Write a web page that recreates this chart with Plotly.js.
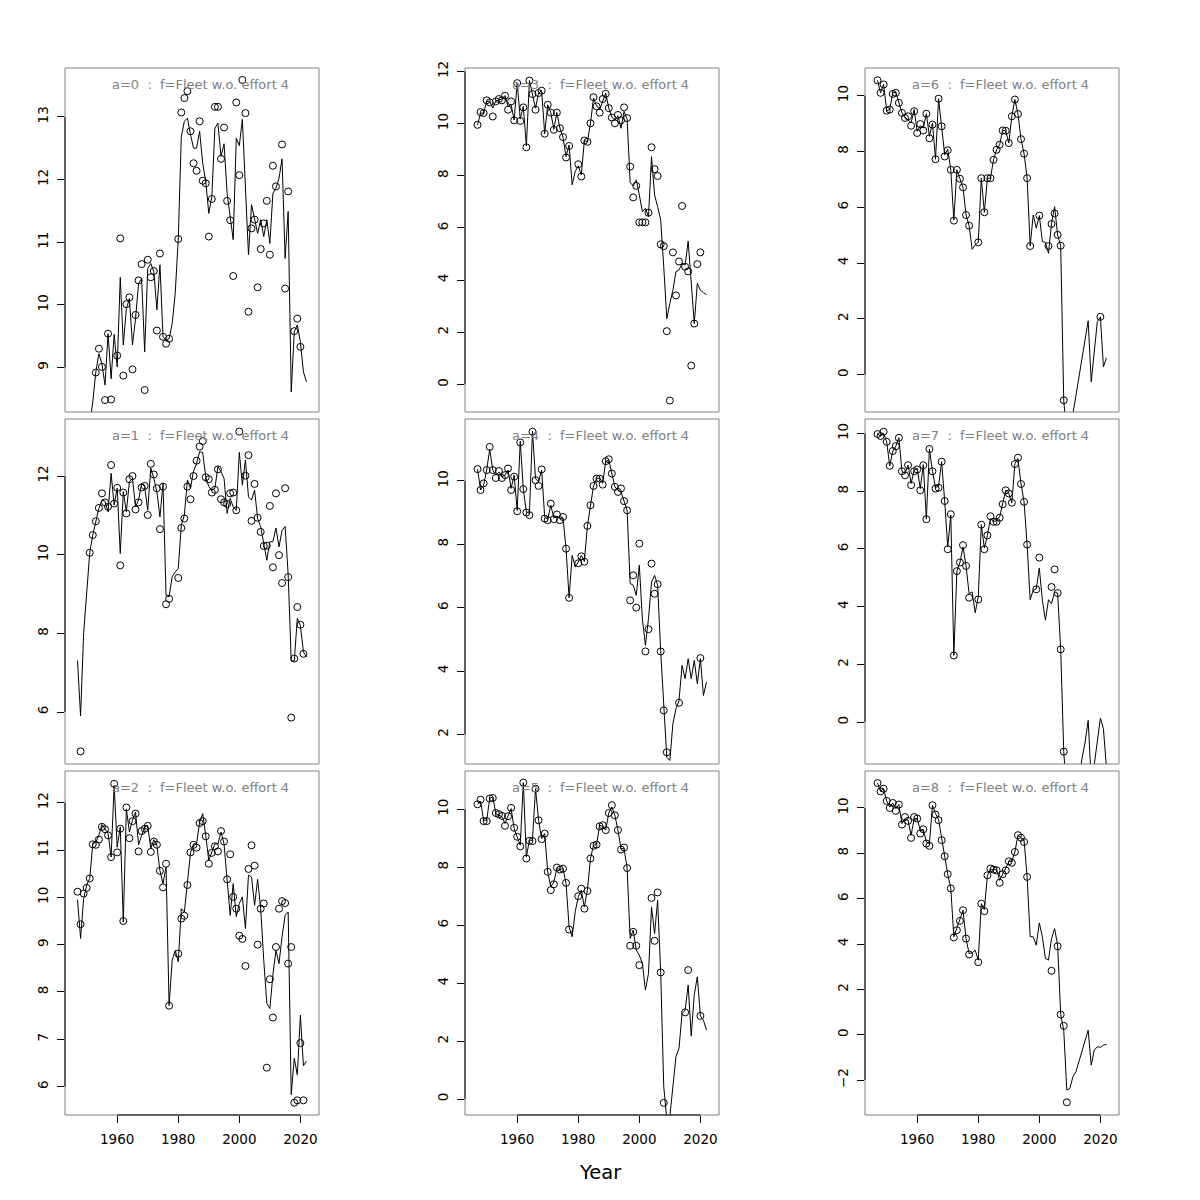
<!DOCTYPE html>
<html><head><meta charset="utf-8">
<script src="https://cdn.plot.ly/plotly-3.0.1.min.js"></script>
<style>html,body{margin:0;padding:0;background:#fff}</style>
</head><body><div id="chart" style="width:1200px;height:1200px"></div>
<script>
const years = [1947,1948,1949,
 1950,1951,1952,1953,1954,1955,1956,1957,1958,1959,
 1960,1961,1962,1963,1964,1965,1966,1967,1968,1969,
 1970,1971,1972,1973,1974,1975,1976,1977,1978,1979,
 1980,1981,1982,1983,1984,1985,1986,1987,1988,1989,
 1990,1991,1992,1993,1994,1995,1996,1997,1998,1999,
 2000,2001,2002,2003,2004,2005,2006,2007,2008,2009,
 2010,2011,2012,2013,2014,2015,2016,2017,2018,2019,
 2020,2021,2022];

const fit_a0 = [7.2,7.5,7.7,
 7.9,8.1,8.45,8.93,9.22,9.06,8.72,9.54,8.82,9.53,
 9.01,10.44,9.36,9.94,10.10,9.36,9.78,10.34,10.42,9.25,
 10.58,10.66,10.53,9.92,10.64,9.49,9.44,9.46,9.70,10.18,
 11.05,12.68,12.93,12.98,12.72,12.50,12.50,12.77,12.26,11.97,
 11.46,11.73,12.82,12.90,12.37,12.57,11.78,11.41,11.04,12.66,
 12.54,12.96,11.89,10.80,11.60,11.38,11.14,11.36,11.09,11.36,
 10.98,11.78,11.86,12.02,12.33,10.74,11.49,8.61,9.57,9.68,
 9.41,8.93,8.77];
const obs_a0 = [null,null,null,
 null,null,null,8.92,9.30,9.01,8.48,9.54,8.49,null,
 9.19,11.06,8.87,10.01,10.12,8.97,9.84,10.39,10.65,8.64,
 10.72,10.44,10.54,9.59,10.82,9.49,9.38,9.46,null,null,
 11.05,13.07,13.30,13.41,12.77,12.26,12.14,12.93,11.98,11.94,
 11.09,11.69,13.16,13.16,12.33,12.83,11.66,11.35,10.46,13.23,
 12.07,13.59,13.06,9.89,11.22,11.36,10.28,10.89,11.30,11.66,
 10.80,12.22,11.89,null,12.56,10.26,11.81,null,9.58,9.78,
 9.33,null,null];

const fit_a1 = [7.31,5.90,7.99,
 9.01,10.05,10.50,10.84,11.18,11.39,11.36,11.09,12.07,11.26,
 11.69,10.03,11.60,11.09,11.86,11.94,11.22,11.39,11.81,11.73,
 11.13,12.20,11.94,11.60,10.96,11.81,8.97,8.93,9.44,9.56,
 9.65,10.75,11.01,11.90,11.69,12.13,12.32,12.62,12.60,11.98,
 11.73,11.64,11.69,12.24,12.11,11.94,11.05,11.43,11.22,11.13,
 12.60,11.77,12.41,11.47,11.39,11.64,10.92,10.71,10.24,9.86,
 10.33,10.33,10.68,10.20,10.62,10.72,9.5,7.3,7.3,8.38,
 8.2,7.53,7.40];
const obs_a1 = [null,5.00,null,
 null,10.05,10.50,10.85,11.19,11.56,11.33,11.22,12.28,11.30,
 11.70,9.73,11.58,11.05,11.92,12.00,11.15,11.33,11.71,11.75,
 11.01,12.31,12.04,11.69,10.65,11.73,8.74,8.88,null,null,
 9.41,10.68,10.92,11.73,11.41,12.00,12.39,12.75,12.89,11.97,
 11.92,11.58,11.65,12.17,11.41,11.33,11.29,11.56,11.58,11.13,
 13.13,null,12.01,12.53,10.86,11.80,10.94,10.58,10.22,10.23,
 11.24,9.68,11.56,9.99,9.28,11.69,9.43,5.86,7.36,8.67,
 8.22,7.48,null];

const fit_a2 = [9.95,9.13,9.97,
 10.26,10.40,11.13,11.17,11.31,11.54,11.45,11.35,10.85,12.37,
 11.06,11.49,9.48,11.87,11.38,11.63,11.80,11.11,11.31,11.49,
 11.52,11.03,11.22,11.10,10.56,10.29,10.64,7.71,8.67,8.88,
 8.64,9.76,9.69,10.29,10.94,11.13,11.13,11.59,11.77,11.31,
 10.78,10.96,11.13,11.13,11.38,11.13,10.38,9.62,10.29,9.59,
 9.87,10.01,9.34,10.47,10.43,9.83,10.38,9.76,8.67,7.76,
 7.65,8.36,8.88,8.60,9.17,9.62,9.69,5.83,6.60,6.25,
 7.51,6.44,6.54];
const obs_a2 = [10.12,9.43,10.08,
 10.20,10.40,11.12,11.11,11.22,11.49,11.44,11.31,10.85,12.40,
 10.95,11.45,9.50,11.90,11.25,11.61,11.77,10.97,11.40,11.45,
 11.51,10.96,11.18,11.11,10.56,10.21,10.71,7.71,null,null,
 8.81,9.55,9.61,10.26,10.95,11.11,11.05,11.57,11.61,11.29,
 10.71,10.94,11.08,10.97,11.40,11.18,10.38,10.91,10.01,9.76,
 9.19,9.12,8.55,10.60,11.10,10.67,9.00,9.76,9.87,6.40,
 8.27,7.46,8.95,9.76,9.92,9.88,8.60,8.95,5.66,5.71,
 6.92,5.71,null];

const fit_a3 = [9.95,10.40,10.40,
 10.85,10.85,10.59,10.87,10.91,10.94,11.07,10.66,10.72,10.14,
 11.55,10.17,10.66,9.14,11.65,11.10,10.59,11.17,11.26,9.61,
 10.72,10.42,9.78,10.42,9.82,9.48,8.73,9.18,7.65,8.16,
 8.38,8.03,9.35,9.30,10.01,10.98,10.68,10.53,10.89,11.17,
 10.59,10.25,10.12,10.30,9.82,10.46,10.17,7.74,7.61,7.84,
 7.26,6.62,6.75,6.43,8.73,7.26,6.81,6.30,4.51,2.52,
 3.10,3.61,4.32,4.38,4.64,4.57,5.49,3.9,2.33,3.87,
 3.61,3.52,3.44];
const obs_a3 = [9.95,10.44,10.40,
 10.89,10.81,10.27,10.85,10.94,10.89,11.07,10.53,10.85,10.12,
 11.55,10.10,10.62,9.09,11.65,11.13,10.53,11.17,11.26,9.61,
 10.72,10.42,9.76,10.42,9.82,9.48,8.70,9.14,null,null,
 8.44,7.97,9.35,9.30,10.01,11.01,10.66,10.42,10.94,11.14,
 10.59,10.23,10.01,10.33,10.12,10.62,10.21,8.35,7.17,7.61,
 6.21,6.21,6.21,6.58,9.09,8.25,7.99,5.37,5.30,2.04,
 -0.62,5.06,3.41,4.71,6.84,4.51,4.33,0.72,2.33,4.61,
 5.06,null,null];

const fit_a4 = [10.37,9.71,9.86,
 10.34,11.0,10.34,10.18,10.28,10.13,10.18,10.34,9.76,10.18,
 9.07,11.25,9.74,9.02,8.97,11.57,10.07,9.97,10.34,8.86,
 8.79,9.23,8.83,8.89,8.81,8.83,7.86,6.31,7.65,7.28,
 7.44,7.65,7.46,8.58,9.23,9.84,10.07,10.09,9.92,10.62,
 10.65,10.23,9.81,9.71,9.65,9.36,9.07,6.76,6.71,6.39,
 7.34,5.65,4.81,5.65,6.81,7.02,6.71,4.62,2.76,1.28,
 1.18,2.34,2.81,3.07,4.18,3.76,4.39,3.76,4.34,3.6,
 4.39,3.23,3.65];
const obs_a4 = [10.37,9.71,9.92,
 10.34,11.07,10.34,10.09,10.31,10.09,10.18,10.39,9.71,10.13,
 9.04,11.21,9.74,9.00,8.92,11.55,10.02,9.84,10.36,8.81,
 8.76,9.28,8.79,8.94,8.76,8.86,7.86,6.31,null,null,
 7.40,7.62,7.45,8.58,9.23,9.84,10.07,10.07,9.88,10.62,
 10.68,10.23,9.81,9.65,9.76,9.36,9.07,6.23,7.02,6.00,
 8.02,null,4.62,5.32,7.39,6.44,6.74,4.62,2.76,1.44,
 null,null,null,3.00,null,null,null,null,null,null,
 4.41,null,null];

const fit_a5 = [10.17,10.28,9.62,
 9.62,10.37,10.43,9.85,9.79,9.74,9.51,9.79,10.02,9.33,
 9.05,8.76,10.92,8.36,8.93,8.93,10.71,9.62,8.99,9.16,
 7.84,7.32,7.49,7.95,7.92,7.95,7.44,5.94,5.60,6.46,
 6.98,7.21,6.63,7.21,8.30,8.76,8.78,9.45,9.41,9.28,
 9.87,10.08,9.79,9.28,8.64,8.64,7.97,5.54,5.83,5.14,
 4.97,4.68,3.76,4.33,6.63,5.71,6.86,4.37,0.43,-0.7,
 -0.6,0.5,1.46,1.75,2.95,3.07,3.93,2.17,3.6,4.22,
 2.87,2.72,2.38];
const obs_a5 = [10.17,10.33,9.59,
 9.59,10.37,10.39,9.87,9.83,9.77,9.43,9.76,10.05,9.36,
 9.05,8.72,10.92,8.30,8.91,8.90,10.71,9.62,8.97,9.16,
 7.84,7.21,7.41,7.99,7.92,7.95,7.46,5.85,null,null,
 7.00,7.26,6.57,7.18,8.30,8.74,8.78,9.41,9.45,9.28,
 9.87,10.14,9.79,9.28,8.61,8.68,7.97,5.29,5.77,5.29,
 4.62,null,null,null,6.94,5.46,7.13,4.37,-0.13,null,
 null,null,null,null,null,2.99,4.45,null,null,null,
 2.87,null,null];

const fit_a6 = [10.55,10.10,10.40,
 9.46,9.50,10.10,10.12,9.74,9.38,9.23,9.14,9.02,9.50,
 8.72,8.92,8.84,9.35,8.54,9.02,7.72,9.89,8.90,7.88,
 8.08,7.34,5.54,7.34,7.02,6.71,5.72,5.34,4.49,4.65,
 4.74,7.04,5.82,7.04,7.04,7.70,8.06,8.24,8.75,8.74,
 8.30,9.26,9.86,9.34,8.44,7.92,7.04,4.61,5.72,5.25,
 5.70,4.77,4.74,4.35,5.40,6.02,5.01,4.62,-0.92,-2.2,
 -2.6,-1.4,-0.75,-0.1,0.6,1.2,1.93,-0.26,0.8,1.9,
 2.07,0.28,0.60];
const obs_a6 = [10.55,10.10,10.40,
 9.46,9.50,10.06,10.10,9.74,9.38,9.20,9.26,8.92,9.44,
 8.66,8.98,8.75,9.35,8.47,8.96,7.72,9.89,8.90,7.82,
 8.04,7.34,5.52,7.34,7.02,6.71,5.72,5.34,null,null,
 4.74,7.04,5.82,7.04,7.04,7.70,8.06,8.24,8.75,8.74,
 8.30,9.26,9.86,9.34,8.44,7.92,7.04,4.61,null,null,
 5.70,null,null,4.61,5.40,5.78,5.01,4.62,-0.92,null,
 null,null,null,null,null,null,null,null,null,null,
 2.07,null,null];

const fit_a7 = [9.98,9.91,10.0,
 9.71,8.88,9.39,9.56,9.85,8.69,8.61,8.90,8.27,8.73,
 8.79,8.09,8.92,7.03,9.46,8.69,8.12,8.18,9.02,7.66,
 6.07,7.17,2.31,5.23,5.53,6.07,5.41,4.45,4.51,3.79,
 4.34,6.84,6.03,6.47,7.05,6.94,6.99,7.11,7.55,8.03,
 7.92,7.60,8.96,9.13,8.25,7.63,6.15,4.24,4.57,4.62,
 5.34,4.22,3.53,4.24,4.10,4.51,4.47,2.52,-1.02,-2.5,
 -3.0,-3.0,-2.6,-2.0,-1.25,-0.69,0.06,-2.0,-1.47,-0.65,
 0.14,-0.23,-1.6];
const obs_a7 = [9.98,9.91,10.06,
 9.71,8.88,9.39,9.56,9.85,8.69,8.55,8.90,8.21,8.69,
 8.75,8.03,8.90,7.03,9.46,8.69,8.09,8.12,9.02,7.66,
 5.99,7.20,2.31,5.23,5.53,6.13,5.41,4.31,null,null,
 4.25,6.84,5.99,6.47,7.13,6.94,6.94,7.08,7.55,8.03,
 7.92,7.60,8.94,9.16,8.25,7.63,6.15,null,null,4.60,
 5.70,null,null,null,4.68,5.29,4.47,2.52,-1.02,null,
 null,null,null,null,null,null,null,null,null,null,
 null,null,null];

const fit_a8 = [11.10,10.73,10.85,
 10.31,10.04,10.22,9.97,10.15,9.31,9.53,9.46,8.80,9.53,
 9.53,9.02,9.06,8.50,8.43,10.12,9.75,9.49,8.58,7.87,
 7.08,6.45,4.32,4.68,5.12,5.49,4.24,3.58,3.61,3.73,
 3.29,5.78,5.52,7.03,7.28,7.28,7.28,6.81,7.08,7.33,
 7.62,7.65,8.06,8.80,8.69,8.58,6.96,4.32,4.32,3.95,
 4.93,4.32,3.36,3.29,4.24,4.68,3.95,0.89,0.2,-2.44,
 -2.37,-1.85,-1.63,-1.19,-0.68,-0.24,0.20,-1.34,-0.68,-0.53,
 -0.56,-0.46,-0.43];
const obs_a8 = [11.10,10.73,10.85,
 10.31,10.00,10.22,9.87,10.15,9.27,9.60,9.43,8.68,9.60,
 9.53,8.87,9.06,8.43,8.33,10.12,9.71,9.46,8.58,7.87,
 7.08,6.45,4.29,4.61,5.02,5.49,4.24,3.54,null,null,
 3.20,5.78,5.45,7.03,7.33,7.28,7.25,6.70,7.08,7.25,
 7.65,7.58,8.06,8.80,8.69,8.50,6.96,null,null,null,
 null,null,null,null,2.82,null,3.90,0.89,0.39,-2.98,
 null,null,null,null,null,null,null,null,null,null,
 null,null,null];

const yTicks_a0 = [9,10,11,12,13];
const yTicks_a1 = [6,8,10,12];
const yTicks_a2 = [6,7,8,9,10,11,12];
const yTicks_a3 = [0,2,4,6,8,10,12];
const yTicks_a4 = [2,4,6,8,10];
const yTicks_a5 = [0,2,4,6,8,10];
const yTicks_a6 = [0,2,4,6,8,10];
const yTicks_a7 = [0,2,4,6,8,10];
const yTicks_a8 = [-2,0,2,4,6,8,10];
const xTicks = [1960,1980,2000,2020];
const ageLabels = ["a=0","a=1","a=2","a=3","a=4","a=5","a=6","a=7","a=8"];
const fleetLabel = "f=Fleet w.o. effort 4";
const xLabel = "Year";

const fits = [fit_a0,fit_a1,fit_a2,fit_a3,fit_a4,fit_a5,fit_a6,fit_a7,fit_a8];
const obss = [obs_a0,obs_a1,obs_a2,obs_a3,obs_a4,obs_a5,obs_a6,obs_a7,obs_a8];
const yTicks = [yTicks_a0,yTicks_a1,yTicks_a2,yTicks_a3,yTicks_a4,yTicks_a5,yTicks_a6,yTicks_a7,yTicks_a8];

// layout (pixels)
const W = 1200, H = 1200;
const colLeft = [65,465,865], panelW = 254;
const rowTop = [68,419,771], rowBot = [412,764,1115];
const yRanges = [[8.29,13.78],[4.68,13.45],[5.40,12.67],[-1.06,12.13],[1.07,11.95],[-0.55,11.32],[-1.34,10.99],[-1.45,10.50],[-3.54,11.63]];
const xRange = [1942.9, 2026.1];

const FONT = "DejaVu Sans, Liberation Sans, sans-serif";
const data = [], shapes = [], annotations = [];
const layout = {
  width: W, height: H, margin: {l:0,r:0,t:0,b:0},
  paper_bgcolor: "#fff", plot_bgcolor: "#fff", showlegend: false,
  font: {family: FONT, size: 13, color: "#000"}
};

for (let a = 0; a < 9; a++) {
  const col = Math.floor(a/3), row = a % 3;
  const n = a + 1;
  const xa = n === 1 ? "x" : "x" + n, ya = n === 1 ? "y" : "y" + n;
  const xk = n === 1 ? "xaxis" : "xaxis" + n, yk = n === 1 ? "yaxis" : "yaxis" + n;
  const x0 = colLeft[col], x1 = colLeft[col] + panelW;
  const yt = rowTop[row], yb = rowBot[row];
  const bottomRow = row === 2;
  layout[xk] = {
    domain: [x0/W, x1/W], range: xRange, anchor: ya,
    showgrid: false, zeroline: false, showline: false,
    tickmode: "array", tickvals: xTicks,
    ticks: bottomRow ? "outside" : "", ticklen: 7, tickwidth: 1, tickcolor: "#000",
    showticklabels: bottomRow, tickfont: {family: FONT, size: 13.5, color: "#000"},
    ticklabelstandoff: 5
  };
  layout[yk] = {
    domain: [1 - yb/H, 1 - yt/H], range: yRanges[a], anchor: xa,
    showgrid: false, zeroline: false, showline: false,
    tickmode: "array", tickvals: yTicks[a],
    ticks: "outside", ticklen: 7, tickwidth: 1, tickcolor: "#000",
    tickangle: -90, tickfont: {family: FONT, size: 13.5, color: "#000"},
    ticklabelstandoff: 4
  };
  data.push({
    x: years, y: fits[a], xaxis: xa, yaxis: ya, type: "scatter", mode: "lines",
    line: {color: "#000", width: 1}, hoverinfo: "skip"
  });
  data.push({
    x: years, y: obss[a], xaxis: xa, yaxis: ya, type: "scatter", mode: "markers",
    marker: {symbol: "circle-open", size: 7, color: "#000", line: {width: 1, color: "#000"}},
    hoverinfo: "skip"
  });
  shapes.push({type: "rect", xref: xa + " domain", yref: ya + " domain", x0: 0, x1: 1, y0: 0, y1: 1,
    line: {color: "#808080", width: 1}, layer: "above"});
  const yt0 = yTicks[a][0], yt1 = yTicks[a][yTicks[a].length-1];
  shapes.push({type: "line", xref: xa + " domain", yref: ya, x0: 0, x1: 0, y0: yt0, y1: yt1,
    line: {color: "#000", width: 1}, layer: "above"});
  if (bottomRow) {
    shapes.push({type: "line", xref: xa, yref: ya + " domain", x0: xTicks[0], x1: xTicks[xTicks.length-1], y0: 0, y1: 0,
      line: {color: "#000", width: 1}, layer: "above"});
  }
  annotations.push({
    xref: "paper", yref: "paper",
    x: ((x0 + x1)/2 + 8.5)/W, y: 1 - (yt + 16.5)/H,
    xanchor: "center", yanchor: "middle", showarrow: false,
    text: ageLabels[a] + "\u00a0\u00a0:\u00a0\u00a0" + fleetLabel,
    font: {family: FONT, size: 13, color: "#808080"}
  });
}
annotations.push({
  xref: "paper", yref: "paper", x: 600/W, y: 1 - 1172/H,
  xanchor: "center", yanchor: "middle", showarrow: false,
  text: xLabel, font: {family: FONT, size: 19.5, color: "#000"}
});
layout.shapes = shapes;
layout.annotations = annotations;

Plotly.newPlot("chart", data, layout, {displayModeBar: false, staticPlot: true});
</script>
</body></html>
